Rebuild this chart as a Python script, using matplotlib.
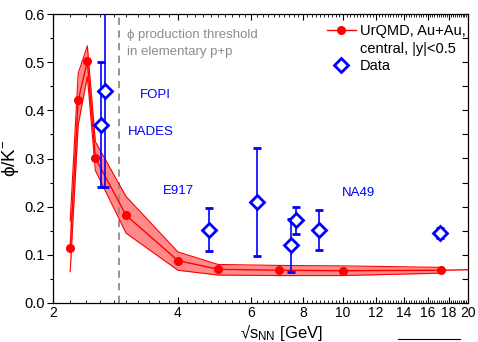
import numpy as np
import matplotlib
matplotlib.use("Agg")
import matplotlib.pyplot as plt
from matplotlib.lines import Line2D
from matplotlib.ticker import FixedLocator, FixedFormatter, NullFormatter, MultipleLocator

plt.rcParams['font.family'] = ['Liberation Sans', 'DejaVu Sans']
plt.rcParams['mathtext.fontset'] = 'custom'
plt.rcParams['mathtext.rm'] = 'Liberation Sans'
plt.rcParams['mathtext.it'] = 'Liberation Sans:italic'

# UrQMD, Au+Au central |y|<0.5
urqmd_x = [2.2, 2.3, 2.42, 2.53, 3.0, 4.0, 5.0, 7.0, 10.0, 17.2]
urqmd_y = [0.115, 0.421, 0.502, 0.301, 0.182, 0.088, 0.070, 0.068, 0.067, 0.068]
urqmd_lo = [0.065, 0.37, 0.47, 0.275, 0.145, 0.068, 0.058, 0.057, 0.057, 0.062]
urqmd_hi = [0.17, 0.477, 0.534, 0.335, 0.221, 0.106, 0.080, 0.078, 0.077, 0.074]
urqmd_tail_x = [17.2, 20.0]
urqmd_tail_y = [0.068, 0.069]

# Data
data_x = [2.61, 2.67, 4.75, 6.2, 7.49, 7.7, 8.75, 17.1]
data_y = [0.37, 0.44, 0.152, 0.21, 0.12, 0.172, 0.152, 0.145]
data_err = [0.13, 0.20, 0.045, 0.112, 0.055, 0.028, 0.041, 0.010]

threshold = 2.89

x_major = [2, 4, 6, 8, 10, 12, 14, 16, 18, 20]
y_major = [0.0, 0.1, 0.2, 0.3, 0.4, 0.5, 0.6]

red = '#FF0000'
blue = '#0000FF'
gray = '#8C8C8C'

fig = plt.figure(figsize=(4.78, 3.42), dpi=100)
ax = fig.add_axes([53/478, 1-303/342, 415/478, 289/342])

ax.fill_between(urqmd_x, urqmd_lo, urqmd_hi, color='#FF8A8A', lw=0, zorder=1)
ax.plot(urqmd_x, urqmd_lo, color=red, lw=0.8, zorder=2)
ax.plot(urqmd_x, urqmd_hi, color=red, lw=0.8, zorder=2)
ax.plot(urqmd_tail_x, urqmd_tail_y, color=red, lw=1.0, zorder=2)
ax.plot(urqmd_x, urqmd_y, color=red, lw=1.0, marker='o', ms=5.5, mec=red, mfc=red, zorder=3)

ax.axvline(threshold, color=gray, lw=1.3, ls=(0, (4, 3)), zorder=1.5)

ax.errorbar(data_x, data_y, yerr=data_err, fmt='D', ms=7, mfc='white', mec=blue,
            mew=2.0, color=blue, ecolor=blue, elinewidth=1.2, capsize=3, capthick=1.2,
            zorder=4)

ax.set_xscale('log')
ax.set_xlim(2, 20)
ax.set_ylim(0, 0.6)
ax.xaxis.set_major_locator(FixedLocator(x_major))
ax.xaxis.set_minor_locator(FixedLocator(
    [v for v in np.arange(2.2, 20, 0.2) if all(abs(v - m) > 1e-6 for m in x_major)]))
ax.xaxis.set_major_formatter(FixedFormatter([str(m) for m in x_major]))
ax.xaxis.set_minor_formatter(NullFormatter())
ax.set_yticks(y_major)
ax.set_yticklabels([f'{v:.1f}' for v in y_major])
ax.yaxis.set_minor_locator(MultipleLocator(0.05))

ax.tick_params(axis='x', which='both', direction='in', top=True, bottom=True, labelsize=10, pad=2.5)
ax.tick_params(axis='x', which='major', length=4, width=0.8)
ax.tick_params(axis='x', which='minor', length=2.2, width=0.6)
ax.tick_params(axis='y', which='both', direction='out', left=True, right=False, labelsize=10.5, pad=1.5)
ax.tick_params(axis='y', which='major', length=4.5, width=0.8)
ax.tick_params(axis='y', which='minor', length=2.5, width=0.8)
axr = ax.secondary_yaxis('right')
axr.yaxis.set_major_locator(MultipleLocator(0.1))
axr.yaxis.set_minor_locator(MultipleLocator(0.05))
axr.tick_params(which='both', direction='in', labelright=False, width=0.8, length=4.5)
axr.spines['right'].set_visible(False)

for s in ax.spines.values():
    s.set_linewidth(0.9)

ax.set_xlabel(r'√s$_{\mathrm{NN}}$ [GeV]', fontsize=12)
ax.xaxis.set_label_coords(0.55, -0.0645)
ax.set_ylabel('ϕ/K$^{-}$', fontsize=13.5, labelpad=2)

fig.text(127/478, 1-35/342, 'ϕ production threshold', fontsize=9.5, color=gray, va='center')
fig.text(127/478, 1-52/342, 'in elementary p+p', fontsize=9.5, color=gray, va='center')

for label, px, py in [('FOPI', 140, 95), ('HADES', 128, 132), ('E917', 163, 191), ('NA49', 342, 193)]:
    fig.text(px/478, 1-py/342, label, fontsize=9.5, color=blue, va='center', ha='left')

h1 = Line2D([], [], color=red, lw=1.0, marker='o', ms=5.5)
h2 = Line2D([], [], color='none')
h3 = Line2D([], [], ls='none', marker='D', ms=7, mfc='white', mec=blue, mew=2.0)
leg = ax.legend([h1, h2, h3], ['UrQMD, Au+Au,', 'central, |y|<0.5', 'Data'],
                loc='upper left', bbox_to_anchor=(0.645, 0.985), frameon=False,
                fontsize=10.5, handlelength=2.0, handletextpad=0.3, labelspacing=0.25,
                borderaxespad=0)

fig.add_artist(Line2D([398/478, 460/478], [1-339/342, 1-339/342], color='black', lw=0.8))

fig.savefig('out.png', dpi=100)
